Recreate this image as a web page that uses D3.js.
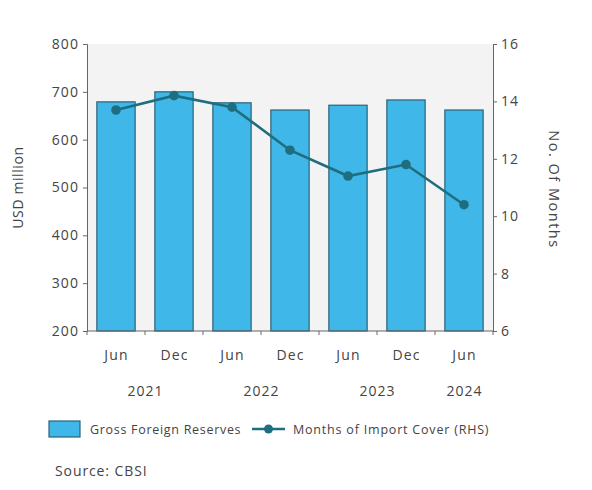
<!DOCTYPE html>
<html>
<head>
<meta charset="utf-8">
<script src="https://cdn.jsdelivr.net/npm/d3@7"></script>
<style>
  html, body { margin: 0; padding: 0; background: #ffffff; }
  svg text { font-family: "Open Sans", sans-serif; fill: #444444; }
</style>
</head>
<body>
<svg id="chart" width="592" height="490"></svg>
<script>
// Half-yearly periods
const months = ["Jun", "Dec", "Jun", "Dec", "Jun", "Dec", "Jun"];
const years  = ["2021", "2021", "2022", "2022", "2023", "2023", "2024"];
// Gross foreign reserves, USD million (left axis)
const reserves = [679, 700, 677, 662, 672, 683, 662];
// Months of import cover (right axis)
const importCover = [13.7, 14.2, 13.8, 12.3, 11.4, 11.8, 10.4];
const leftTicks = [200, 300, 400, 500, 600, 700, 800];
const rightTicks = [6, 8, 10, 12, 14, 16];

const svg = d3.select("#chart");
const plot = { left: 87, right: 493, top: 44, bottom: 331 };

const x = d3.scaleBand()
  .domain(d3.range(months.length))
  .range([plot.left, plot.right])
  .paddingInner(0.34)
  .paddingOuter(0.17);
const yL = d3.scaleLinear().domain([200, 800]).range([plot.bottom, plot.top]);
const yR = d3.scaleLinear().domain([6, 16]).range([plot.bottom, plot.top]);

// plot area background
svg.append("rect")
  .attr("x", plot.left).attr("y", plot.top)
  .attr("width", plot.right - plot.left).attr("height", plot.bottom - plot.top)
  .attr("fill", "#f4f3f3");

// bars
svg.append("g").selectAll("rect")
  .data(reserves)
  .join("rect")
  .attr("x", (d, i) => x(i))
  .attr("y", d => yL(d))
  .attr("width", x.bandwidth())
  .attr("height", d => yL(200) - yL(d))
  .attr("fill", "#3fb7e9")
  .attr("stroke", "#2a6376")
  .attr("stroke-width", 1.2);

// left axis
const axisL = svg.append("g")
  .attr("transform", `translate(${plot.left},0)`)
  .call(d3.axisLeft(yL).tickValues(leftTicks).tickSize(4).tickPadding(4));
// right axis
const axisR = svg.append("g")
  .attr("transform", `translate(${plot.right},0)`)
  .call(d3.axisRight(yR).tickValues(rightTicks).tickSize(4).tickPadding(4));
[axisL, axisR].forEach(a => {
  a.select(".domain").attr("stroke", "#666");
  a.selectAll(".tick line").attr("stroke", "#666");
  a.selectAll(".tick text")
    .style("font-size", "14px")
    .style("letter-spacing", "1.1px")
    .attr("fill", "#444444");
});

// bottom axis: baseline, boundary ticks, month and year labels
const gx = svg.append("g");
gx.append("line")
  .attr("x1", plot.left).attr("x2", plot.right)
  .attr("y1", plot.bottom).attr("y2", plot.bottom)
  .attr("stroke", "#666");
const step = x.step();
const boundaries = d3.range(months.length + 1).map(i => x(0) - x.paddingOuter() * step + i * step);
gx.selectAll("line.b")
  .data(boundaries)
  .join("line")
  .attr("class", "b")
  .attr("x1", d => d).attr("x2", d => d)
  .attr("y1", plot.bottom).attr("y2", plot.bottom + 4)
  .attr("stroke", "#666");
gx.selectAll("text.m")
  .data(months)
  .join("text")
  .attr("class", "m")
  .attr("x", (d, i) => x(i) + x.bandwidth() / 2 + 0.6)
  .attr("y", 360)
  .attr("text-anchor", "middle")
  .style("font-size", "14px")
  .style("letter-spacing", "1.2px")
  .text(d => d);
const yearGroups = d3.groups(d3.range(years.length), i => years[i]);
gx.selectAll("text.y")
  .data(yearGroups)
  .join("text")
  .attr("class", "y")
  .attr("x", ([, idx]) => d3.mean(idx, i => x(i) + x.bandwidth() / 2) + 0.5)
  .attr("y", 396)
  .attr("text-anchor", "middle")
  .style("font-size", "14px")
  .style("letter-spacing", "1px")
  .text(([yr]) => yr);

// axis titles
svg.append("text")
  .attr("transform", `translate(23,${(plot.top + plot.bottom) / 2}) rotate(-90)`)
  .attr("text-anchor", "middle")
  .style("font-size", "14px")
  .style("letter-spacing", "0.6px")
  .text("USD million");
svg.append("text")
  .attr("transform", `translate(549,${(plot.top + plot.bottom) / 2 + 2}) rotate(90)`)
  .attr("text-anchor", "middle")
  .style("font-size", "14.5px")
  .style("letter-spacing", "1.5px")
  .text("No. Of Months");

// import cover line with markers
const line = d3.line()
  .x((d, i) => x(i) + x.bandwidth() / 2)
  .y(d => yR(d));
svg.append("path")
  .datum(importCover)
  .attr("d", line)
  .attr("fill", "none")
  .attr("stroke", "#1f6e80")
  .attr("stroke-width", 2.6);
svg.append("g").selectAll("circle")
  .data(importCover)
  .join("circle")
  .attr("cx", (d, i) => x(i) + x.bandwidth() / 2)
  .attr("cy", d => yR(d))
  .attr("r", 4.8)
  .attr("fill", "#1f6e80");

// legend
const lg = svg.append("g");
lg.append("rect")
  .attr("x", 49).attr("y", 421).attr("width", 31).attr("height", 16)
  .attr("fill", "#3fb7e9").attr("stroke", "#2a6376").attr("stroke-width", 1.2);
lg.append("text")
  .attr("x", 90).attr("y", 434)
  .style("font-size", "12.5px")
  .style("letter-spacing", "0.7px")
  .text("Gross Foreign Reserves");
lg.append("line")
  .attr("x1", 252).attr("x2", 285).attr("y1", 429).attr("y2", 429)
  .attr("stroke", "#1f6e80").attr("stroke-width", 2.6);
lg.append("circle")
  .attr("cx", 268.5).attr("cy", 429).attr("r", 4.5).attr("fill", "#1f6e80");
lg.append("text")
  .attr("x", 293).attr("y", 434)
  .style("font-size", "12.5px")
  .style("letter-spacing", "0.8px")
  .text("Months of Import Cover (RHS)");

// source note
svg.append("text")
  .attr("x", 55).attr("y", 476)
  .style("font-size", "14px")
  .style("letter-spacing", "0.9px")
  .text("Source: CBSI");
</script>
</body>
</html>
